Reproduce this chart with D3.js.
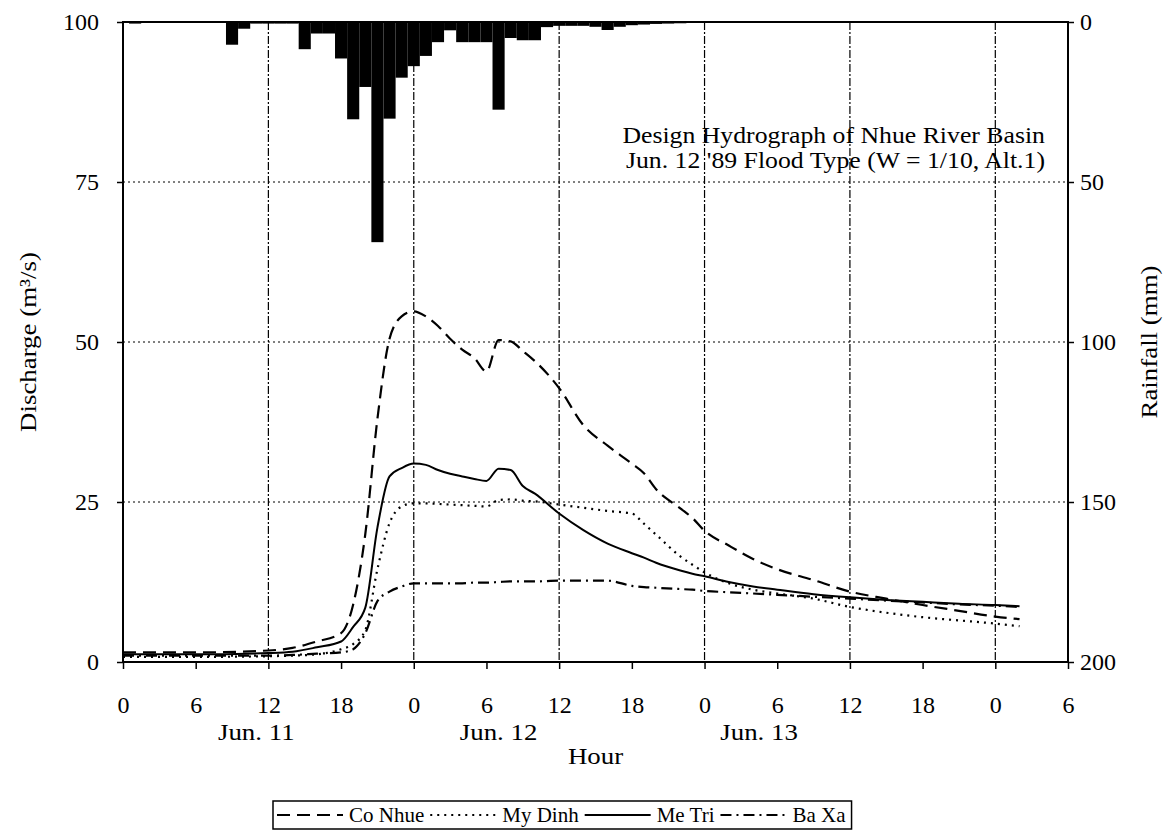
<!DOCTYPE html>
<html><head><meta charset="utf-8">
<script src="https://cdn.jsdelivr.net/npm/d3@7"></script>
<style>
body{margin:0;background:#fff}
svg{display:block}
text{font-family:"Liberation Serif","Times New Roman",serif;fill:#000}
</style>
</head><body>
<svg id="chart" width="1171" height="833"></svg>
<script>
// ---------------- DATA ----------------
const hours   = [0,6,12,14,16,18, 19,20,21,22,23,24, 25,26,27,28,29,30, 31,32,33,34,36,38, 40,42,43,44,46,47, 48,50,52,54,57,60, 63,66,69,72,74];
const coNhue  = [1.5,1.5,1.8,2.2,3.2,4.5, 9,20,38,50.5,54,54.8, 54,52.5,50.5,48.8,47.5,45.4, 50.3,50.1,48.6,47,42.8,37, 33.8,31,29.5,27,24,22.5, 20.5,18.2,16.1,14.5,12.8,11, 9.9,8.9,8,7.1,6.7];
const myDinh  = [0.8,0.8,0.9,1,1.2,2, 2.8,5,14.5,21.7,24.3,24.8, 24.8,24.7,24.6,24.5,24.4,24.3, 25.3,25.4,25.2,25.1,24.6,24.1, 23.6,23.2,21.6,19.9,16.5,15.2, 14,12.3,11.3,10.7,9.9,8.6, 7.7,7,6.5,6,5.6];
const meTri   = [1.2,1.2,1.4,1.6,2.3,3.2, 5.5,8.5,21,29,30.3,31, 30.8,30,29.4,29,28.6,28.3, 30.2,30,27.5,26.3,23.2,20.6, 18.5,17,16.3,15.5,14.3,13.8, 13.4,12.5,11.8,11.3,10.6,10.1, 9.7,9.4,9.1,8.9,8.7];
const baXa    = [1,1,1,1.1,1.3,1.5, 2,4.5,9.5,11,11.8,12.3, 12.3,12.3,12.3,12.3,12.4,12.4, 12.5,12.6,12.6,12.6,12.7,12.7, 12.7,11.9,11.7,11.6,11.4,11.3, 11.1,10.9,10.7,10.5,10.2,9.9, 9.6,9.3,9.0,8.8,8.6];

const rainHours = [1,9,10,11,12,13,14,15,16,17,18,19,20,21,22,23,24,25,26,27,28,29,30,31,32,33,34,35,36,37,38,39,40,41,42,43,44,45,46,47];
const rainMm    = [0.5,7.1,2.1,0.5,0.5,0.5,0.5,8.5,3.6,3.6,11.4,30.4,20.3,68.8,30.2,17.4,13.8,10.6,6.3,2.6,6.3,6.3,6.3,27.4,5.0,5.7,5.7,1.6,1.2,1.2,1.2,1.5,2.5,1.5,1.0,0.8,0.6,0.5,0.4,0.3];

const xTickHours  = [0,6,12,18,24,30,36,42,48,54,60,66,72,78];
const xTickLabels = ["0","6","12","18","0","6","12","18","0","6","12","18","0","6"];
const dischargeTicks = [0,25,50,75,100];
const rainTicks = [0,50,100,150,200];
const gridHours = [12,24,36,48,60,72];
const dateLabels = ["Jun. 11","Jun. 12","Jun. 13"];
const seriesNames = ["Co Nhue","My Dinh","Me Tri","Ba Xa"];
const titleLines = ["Design Hydrograph of Nhue River Basin","Jun. 12 '89 Flood Type (W = 1/10, Alt.1)"];

// ---------------- LAYOUT ----------------
const L = 123, R = 1068, T = 22, B = 662;
const dateLabelHours = [11, 31, 52.5];
const seriesData = [coNhue, myDinh, meTri, baXa];
const dashes = ["13,7", "2,5", null, "11,5,2,5"];
const SX = 1.12; // horizontal stretch of word labels (scanned original)

const svg = d3.select("#chart");
const x  = d3.scaleLinear().domain([0,78]).range([L,R]);
const y  = d3.scaleLinear().domain([0,100]).range([B,T]);
const yr = d3.scaleLinear().domain([0,200]).range([T,B]);

function label(px, py, txt, size, anchor, rot){
  return svg.append("text")
    .attr("transform",`translate(${px},${py})${rot?` rotate(${rot})`:""} scale(${SX},1)`)
    .attr("text-anchor",anchor).attr("font-size",size).text(txt);
}

// gridlines
svg.append("g").selectAll("line").data(dischargeTicks.filter(d=>d>0&&d<100)).join("line")
  .attr("x1",L).attr("x2",R).attr("y1",d=>y(d)).attr("y2",d=>y(d))
  .attr("stroke","#000").attr("stroke-width",1).attr("stroke-dasharray","2,3");
svg.append("g").selectAll("line").data(gridHours).join("line")
  .attr("x1",d=>x(d)).attr("x2",d=>x(d)).attr("y1",T).attr("y2",B)
  .attr("stroke","#000").attr("stroke-width",1.2).attr("stroke-dasharray","8,2,2,2");

// rainfall bars
svg.append("g").selectAll("rect").data(rainHours).join("rect")
  .attr("x",d=>x(d-0.5)).attr("width",d=>x(d+0.5)-x(d-0.5))
  .attr("y",yr(0)).attr("height",(d,i)=>yr(rainMm[i])-yr(0))
  .attr("fill","#000");

// lines
const line = d3.line().x((d,i)=>x(hours[i])).y(d=>y(d)).curve(d3.curveMonotoneX);
svg.append("g").selectAll("path").data(seriesData).join("path")
  .attr("d",d=>line(d)).attr("fill","none").attr("stroke","#000")
  .attr("stroke-width",(d,i)=>i===2?2:2.2)
  .attr("stroke-dasharray",(d,i)=>dashes[i]);

// frame
svg.append("rect").attr("x",L).attr("y",T).attr("width",R-L).attr("height",B-T)
  .attr("fill","none").attr("stroke","#000").attr("stroke-width",2);

// axes
const fs = 24;
const ax = svg.append("g").attr("transform",`translate(0,${B})`)
  .call(d3.axisBottom(x).tickValues(xTickHours).tickFormat((d,i)=>xTickLabels[i]).tickSizeInner(7).tickSizeOuter(0).tickPadding(27));
const ay = svg.append("g").attr("transform",`translate(${L},0)`)
  .call(d3.axisLeft(y).tickValues(dischargeTicks).tickSizeInner(6).tickSizeOuter(0).tickPadding(18));
const ar = svg.append("g").attr("transform",`translate(${R},0)`)
  .call(d3.axisRight(yr).tickValues(rainTicks).tickSizeInner(6).tickSizeOuter(0).tickPadding(6));
[ax,ay,ar].forEach(g=>{
  g.select(".domain").remove();
  g.selectAll("line").attr("stroke","#000").attr("stroke-width",1.5);
  g.selectAll("text").attr("font-size",fs).attr("font-family","Liberation Serif").attr("fill","#000");
});

// date labels and axis titles
dateLabels.forEach((d,i)=>label(x(dateLabelHours[i]), 740, d, fs, "middle"));
label((L+R)/2, 764, "Hour", fs, "middle");
label(36, (T+B)/2, "Discharge (m\u00B3/s)", fs, "middle", -90);
label(1157, (T+B)/2, "Rainfall (mm)", fs, "middle", -90);

// annotation
titleLines.forEach((t,i)=>label(1045, 143+i*25, t, 23, "end"));

// legend
const lg = svg.append("g");
const lgX = 273, lgY = 801, lgH = 28, sampleW = 66;
let cur = lgX + 2;
seriesNames.forEach((name,i)=>{
  lg.append("line").attr("x1",cur+2).attr("x2",cur+2+sampleW).attr("y1",lgY+lgH/2).attr("y2",lgY+lgH/2)
    .attr("stroke","#000").attr("stroke-width",2).attr("stroke-dasharray",dashes[i]);
  const t = lg.append("text").attr("x",cur+sampleW+8).attr("y",lgY+lgH/2+7).attr("font-size",21).text(name);
  cur += sampleW + 8 + t.node().getComputedTextLength() + 4;
});
lg.insert("rect",":first-child").attr("x",lgX).attr("y",lgY).attr("width",cur-lgX+2).attr("height",lgH)
  .attr("fill","#fff").attr("stroke","#000").attr("stroke-width",1.5);
</script>
</body></html>
